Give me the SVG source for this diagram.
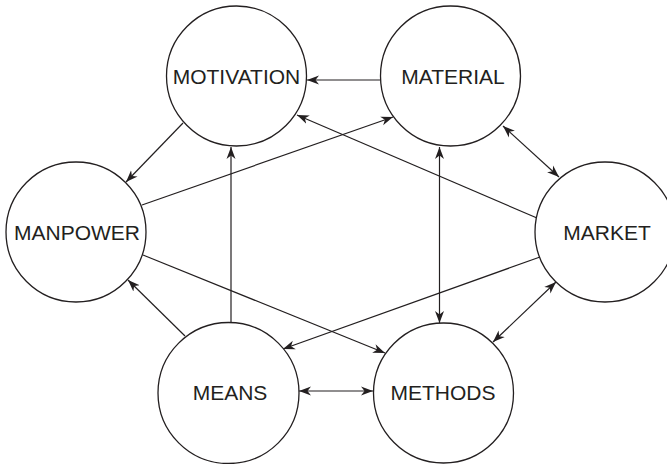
<svg xmlns="http://www.w3.org/2000/svg" width="667" height="464" viewBox="0 0 667 464">
<style>
.node circle{fill:#fff;stroke:#231f20;stroke-width:1.3}
.node text{font-family:"Liberation Sans",Arial,sans-serif;font-size:21px;fill:#231f20;text-anchor:middle}
#connectors line{stroke:#231f20;stroke-width:1.2;fill:none}
.e{marker-end:url(#ah)}
.b{marker-end:url(#ah);marker-start:url(#ah)}
</style>
<defs>
<marker id="ah" markerUnits="userSpaceOnUse" markerWidth="13" markerHeight="10" refX="12" refY="4.5" orient="auto-start-reverse" viewBox="0 0 13 9">
<path d="M0,0 L12,4.5 L0,9 L3.5,4.5 z" fill="#231f20"/>
</marker>
</defs>
<rect width="667" height="464" fill="#fff"/>
<g id="connectors">
<line class="e" x1="380" y1="80" x2="307" y2="80"/>
<line class="e" x1="183" y1="123" x2="126" y2="182"/>
<line class="e" x1="142" y1="205" x2="393" y2="117"/>
<line class="e" x1="537" y1="218" x2="297" y2="115"/>
<line class="b" x1="503" y1="126" x2="559" y2="177"/>
<line class="e" x1="143" y1="255" x2="385" y2="353"/>
<line class="e" x1="185" y1="336" x2="128" y2="280"/>
<line class="e" x1="231" y1="323" x2="231" y2="147"/>
<line class="e" x1="540" y1="257" x2="283" y2="349"/>
<line class="b" x1="439.5" y1="147" x2="439.5" y2="323"/>
<line class="b" x1="299" y1="391" x2="373" y2="391"/>
<line class="b" x1="493" y1="342" x2="556" y2="282"/>
</g>
<g id="motivation" class="node"><circle cx="236.5" cy="76" r="70"/><text x="236.5" y="84">MOTIVATION</text></g>
<g id="material" class="node"><circle cx="450.5" cy="76" r="70"/><text x="453" y="84">MATERIAL</text></g>
<g id="manpower" class="node"><circle cx="76" cy="232" r="70"/><text x="77" y="240">MANPOWER</text></g>
<g id="market" class="node"><circle cx="605" cy="232" r="70"/><text x="607" y="240">MARKET</text></g>
<g id="means" class="node"><circle cx="228.5" cy="393" r="70.5"/><text x="230" y="400">MEANS</text></g>
<g id="methods" class="node"><circle cx="443.5" cy="393" r="70"/><text x="443" y="400">METHODS</text></g>
</svg>
